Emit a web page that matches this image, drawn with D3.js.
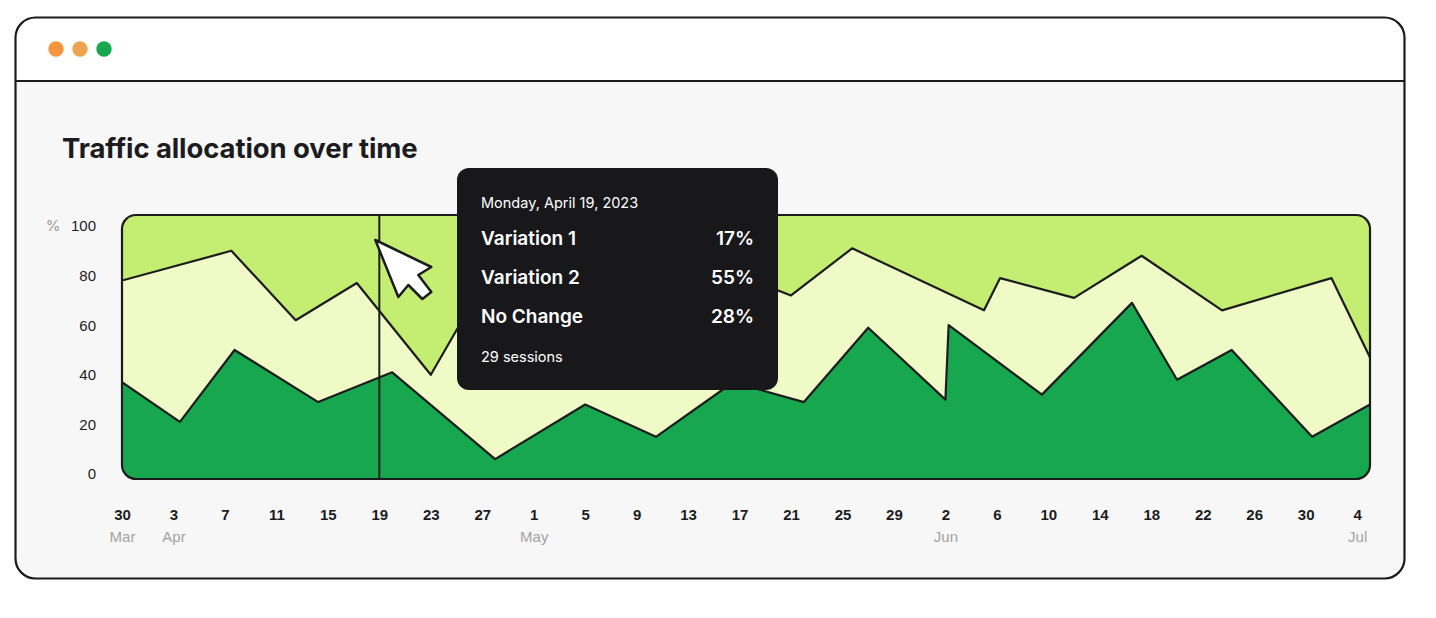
<!DOCTYPE html>
<html>
<head>
<meta charset="utf-8">
<script src="https://cdn.jsdelivr.net/npm/d3@7"></script>
<style>
	body { margin: 0; background: #ffffff; }
	svg { display: block; font-family: Inter, 'Noto Sans', sans-serif; }
	.axis text { fill: #1c1c1e; font-size: 15px; }
	.axis .domain, .axis line { display: none; }
</style>
</head>
<body>
<svg id="chart"></svg>
<script>
// share (%) at the top edge of the dark layer
const lowEdgeDates = [
	'2023-03-30 00:00', '2023-04-03 12:00', '2023-04-07 18:00', '2023-04-14 06:00',
	'2023-04-20 00:00', '2023-04-28 00:00', '2023-05-05 00:00', '2023-05-10 12:00',
	'2023-05-16 12:00', '2023-05-22 00:00', '2023-05-27 00:00', '2023-06-02 00:00',
	'2023-06-02 06:00', '2023-06-09 12:00', '2023-06-16 12:00', '2023-06-20 00:00',
	'2023-06-24 06:00', '2023-06-30 12:00', '2023-07-05 00:00'
];
const lowEdgeValues = [37, 21, 50, 29, 41, 6, 28, 15, 37, 29, 59, 30, 60, 32, 69, 38, 50, 15, 28];

// cumulative share (%) at the top edge of the pale layer
const highEdgeDates = [
	'2023-03-30 00:00', '2023-04-07 12:00', '2023-04-12 12:00', '2023-04-17 06:00',
	'2023-04-23 00:00', '2023-04-28 00:00', '2023-05-07 18:00', '2023-05-17 00:00',
	'2023-05-21 00:00', '2023-05-25 18:00', '2023-06-05 00:00', '2023-06-06 06:00',
	'2023-06-12 00:00', '2023-06-17 06:00', '2023-06-23 12:00', '2023-07-02 00:00',
	'2023-07-05 00:00'
];
const highEdgeValues = [78, 90, 62, 77, 40, 85, 66, 80, 72, 91, 66, 79, 71, 88, 66, 79, 47];

const xTickDates = [
	'2023-03-30', '2023-04-03', '2023-04-07', '2023-04-11', '2023-04-15', '2023-04-19',
	'2023-04-23', '2023-04-27', '2023-05-01', '2023-05-05', '2023-05-09', '2023-05-13',
	'2023-05-17', '2023-05-21', '2023-05-25', '2023-05-29', '2023-06-02', '2023-06-06',
	'2023-06-10', '2023-06-14', '2023-06-18', '2023-06-22', '2023-06-26', '2023-06-30',
	'2023-07-04'
];
const monthTickDates = ['2023-03-30', '2023-04-03', '2023-05-01', '2023-06-02', '2023-07-04'];
const yTicks = [0, 20, 40, 60, 80, 100];

const hoverDate = '2023-04-19';
const tooltipDate = 'Monday, April 19, 2023';
const tooltipNames = ['Variation 1', 'Variation 2', 'No Change'];
const tooltipValues = [17, 55, 28];
const tooltipSessions = 29;

const colors = {
	top: '#c3ee72',
	middle: '#effac6',
	bottom: '#17a84f',
	ink: '#1c1c1e'
};

const width = 1436;
const height = 618;
const plot = { left: 122, right: 1370, top: 215, bottom: 479, radius: 14 };

const parseTime = d3.timeParse('%Y-%m-%d %H:%M');
const parseDay = d3.timeParse('%Y-%m-%d');

const lowEdge = lowEdgeDates.map((d, i) => ({ date: parseTime(d), value: lowEdgeValues[i] }));
const highEdge = highEdgeDates.map((d, i) => ({ date: parseTime(d), value: highEdgeValues[i] }));

const svg = d3.select('#chart').attr('width', width).attr('height', height);

// window frame
const frame = { x: 15.5, y: 17.5, w: 1389, h: 561, r: 20, header: 81 };
svg.append('rect')
	.attr('x', frame.x).attr('y', frame.y)
	.attr('width', frame.w).attr('height', frame.h)
	.attr('rx', frame.r)
	.attr('fill', '#f7f7f7');
svg.append('path')
	.attr('d', `M${frame.x},${frame.header} V${frame.y + frame.r} a${frame.r},${frame.r} 0 0 1 ${frame.r},${-frame.r}
		H${frame.x + frame.w - frame.r} a${frame.r},${frame.r} 0 0 1 ${frame.r},${frame.r} V${frame.header} Z`)
	.attr('fill', '#ffffff');
svg.append('line')
	.attr('x1', frame.x).attr('x2', frame.x + frame.w)
	.attr('y1', frame.header).attr('y2', frame.header)
	.attr('stroke', colors.ink).attr('stroke-width', 2);
svg.append('rect')
	.attr('x', frame.x).attr('y', frame.y)
	.attr('width', frame.w).attr('height', frame.h)
	.attr('rx', frame.r)
	.attr('fill', 'none')
	.attr('stroke', colors.ink).attr('stroke-width', 2.2);

svg.selectAll('.dot')
	.data(['#f5953e', '#eea44c', '#17a84f'])
	.join('circle')
	.attr('class', 'dot')
	.attr('cx', (d, i) => 56 + i * 24)
	.attr('cy', 49)
	.attr('r', 7.7)
	.attr('fill', (d) => d);

svg.append('text')
	.attr('x', 62).attr('y', 158)
	.style('font-size', '27.5px')
	.style('font-weight', 700)
	.style('letter-spacing', '-0.1px')
	.attr('fill', colors.ink)
	.text('Traffic allocation over time');

// scales
const xScale = d3.scaleTime()
	.domain([parseDay('2023-03-30'), parseDay('2023-07-05')])
	.range([plot.left, plot.right]);
const yScale = d3.scaleLinear().domain([0, 100]).range([474, 226]);

svg.append('clipPath')
	.attr('id', 'plot-clip')
	.append('rect')
	.attr('x', plot.left).attr('y', plot.top)
	.attr('width', plot.right - plot.left).attr('height', plot.bottom - plot.top)
	.attr('rx', plot.radius);

const chart = svg.append('g').attr('clip-path', 'url(#plot-clip)');

chart.append('rect')
	.attr('x', plot.left).attr('y', plot.top)
	.attr('width', plot.right - plot.left).attr('height', plot.bottom - plot.top)
	.attr('fill', colors.top);

const area = d3.area()
	.x((d) => xScale(d.date))
	.y0(plot.bottom)
	.y1((d) => yScale(d.value));
const line = d3.line()
	.x((d) => xScale(d.date))
	.y((d) => yScale(d.value));

chart.append('path').datum(highEdge).attr('d', area).attr('fill', colors.middle);
chart.append('path').datum(lowEdge).attr('d', area).attr('fill', colors.bottom);

chart.selectAll('.edge')
	.data([highEdge, lowEdge])
	.join('path')
	.attr('class', 'edge')
	.attr('d', line)
	.attr('fill', 'none')
	.attr('stroke', colors.ink)
	.attr('stroke-width', 2.2)
	.attr('stroke-linejoin', 'round');

// hover line
const hoverX = xScale(parseDay(hoverDate));
chart.append('line')
	.attr('x1', hoverX).attr('x2', hoverX)
	.attr('y1', plot.top).attr('y2', plot.bottom)
	.attr('stroke', colors.ink).attr('stroke-width', 2);

svg.append('rect')
	.attr('x', plot.left).attr('y', plot.top)
	.attr('width', plot.right - plot.left).attr('height', plot.bottom - plot.top)
	.attr('rx', plot.radius)
	.attr('fill', 'none')
	.attr('stroke', colors.ink).attr('stroke-width', 2.2);

// axes
const yAxis = d3.axisLeft(yScale).tickValues(yTicks).tickSize(0).tickPadding(0);
svg.append('g')
	.attr('class', 'axis y-axis')
	.attr('transform', 'translate(96,0)')
	.call(yAxis)
	.selectAll('text')
	.style('font-weight', 500);

svg.append('text')
	.attr('x', 53).attr('y', yScale(100))
	.attr('dy', '0.35em')
	.attr('text-anchor', 'middle')
	.style('font-size', '15px')
	.attr('fill', '#9a9a9a')
	.text('%');

const monthSet = new Set(monthTickDates);
const xAxis = d3.axisBottom(xScale)
	.tickValues(xTickDates.map(parseDay))
	.tickFormat(d3.timeFormat('%-d'))
	.tickSize(0)
	.tickPadding(0);
const xAxisG = svg.append('g')
	.attr('class', 'axis x-axis')
	.attr('transform', 'translate(0,509)')
	.call(xAxis);
xAxisG.selectAll('text').style('font-weight', 600);
xAxisG.selectAll('.tick')
	.filter((d) => monthSet.has(d3.timeFormat('%Y-%m-%d')(d)))
	.append('text')
	.attr('y', 22)
	.attr('dy', '0.71em')
	.style('fill', '#a3a3a3')
	.style('font-weight', 400)
	.text(d3.timeFormat('%b'));

// cursor
svg.append('path')
	.attr('transform', `translate(${hoverX - 4},240)`)
	.attr('d', 'M0,0 L56,27 L43,35 L56,52 L47,59 L33,45 L23,57 Z')
	.attr('fill', '#ffffff')
	.attr('stroke', colors.ink)
	.attr('stroke-width', 2.5)
	.attr('stroke-linejoin', 'round');

// tooltip
const tip = svg.append('g').attr('transform', 'translate(457,168)');
tip.append('rect')
	.attr('width', 321).attr('height', 222)
	.attr('rx', 12)
	.attr('fill', '#18181b');
tip.append('text')
	.attr('x', 24).attr('y', 35)
	.attr('dy', '0.35em')
	.style('font-size', '14.5px')
	.attr('fill', '#ffffff')
	.text(tooltipDate);
const rows = tip.selectAll('.row')
	.data(tooltipNames)
	.join('g')
	.attr('class', 'row')
	.attr('transform', (d, i) => `translate(0,${70 + i * 39})`);
rows.append('text')
	.attr('x', 24)
	.attr('dy', '0.35em')
	.style('font-size', '19px')
	.style('font-weight', 600)
	.attr('fill', '#ffffff')
	.text((d) => d);
rows.append('text')
	.attr('x', 297)
	.attr('dy', '0.35em')
	.attr('text-anchor', 'end')
	.style('font-size', '19px')
	.style('font-weight', 600)
	.attr('fill', '#ffffff')
	.text((d, i) => `${tooltipValues[i]}%`);
tip.append('text')
	.attr('x', 24).attr('y', 189)
	.attr('dy', '0.35em')
	.style('font-size', '14.5px')
	.attr('fill', '#ffffff')
	.text(`${tooltipSessions} sessions`);
</script>
</body>
</html>
